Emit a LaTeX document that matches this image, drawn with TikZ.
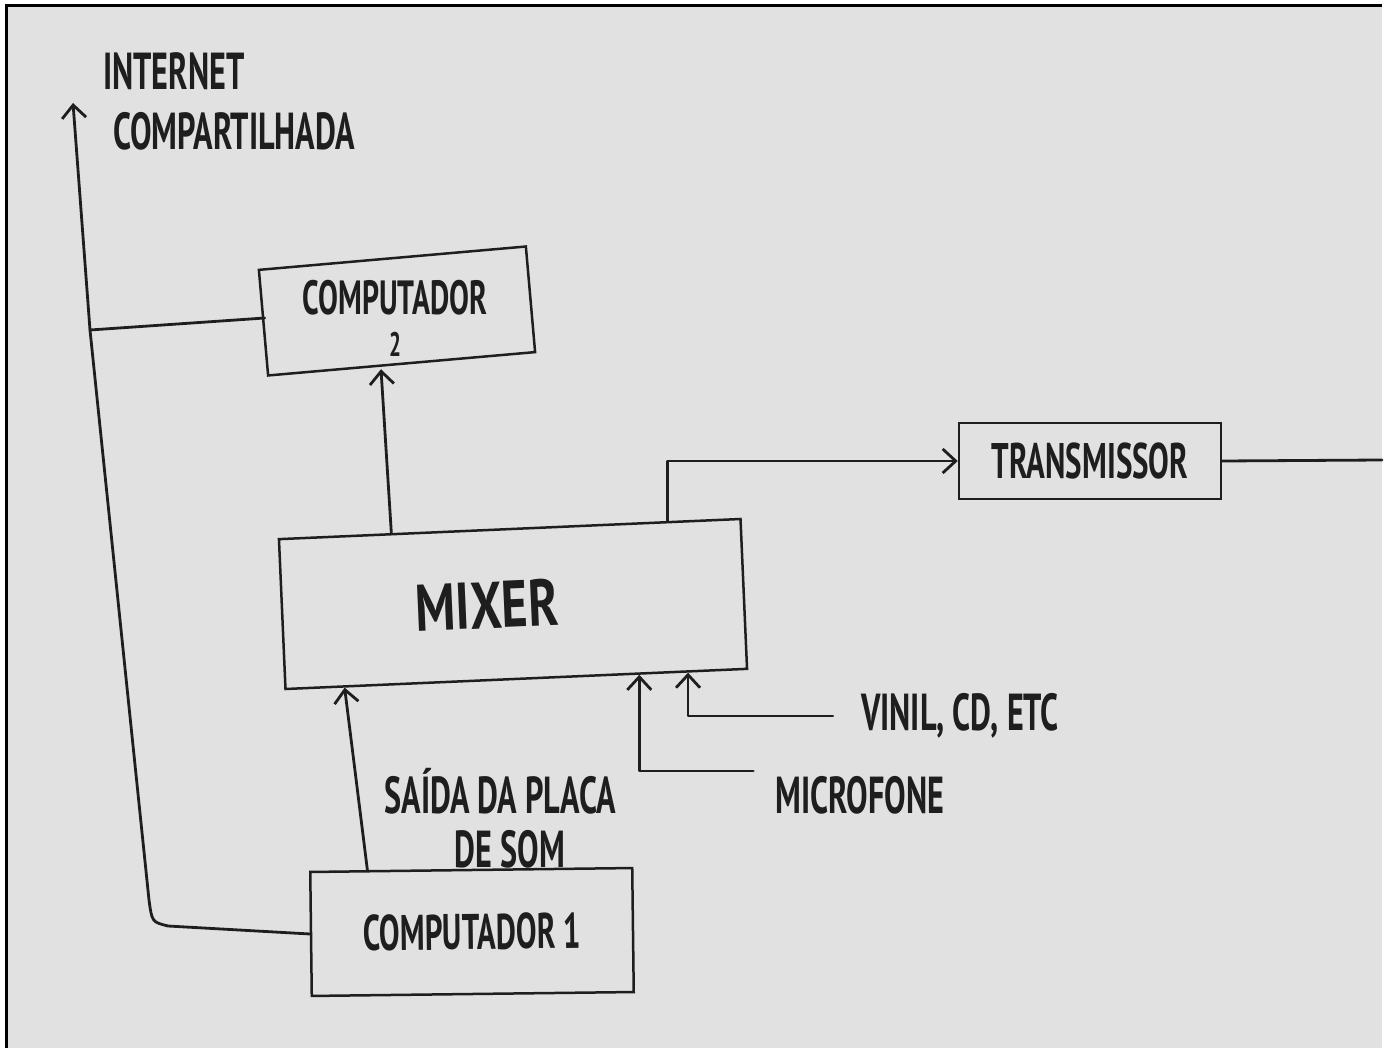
\documentclass[tikz,border=0pt]{standalone}
\usepackage{fontspec}
\newfontfamily\hand[FakeStretch=0.62]{PT Sans Bold}
\newfontfamily\handwide[FakeStretch=0.76]{PT Sans Bold}
\usetikzlibrary{arrows.meta,calc}
\definecolor{paper}{HTML}{E1E1E1}
\definecolor{ink}{HTML}{1E1E1E}
\begin{document}
\begin{tikzpicture}[x=1pt,y=-1pt,
  pen/.style={draw=ink,line width=2.8pt,line cap=round,line join=round},
  arr/.style={pen,-{Straight Barb[length=13pt,width=24pt,line width=2.8pt]}},
  boxnode/.style={draw=ink,line width=2.5pt,rectangle,inner sep=0pt,
    font=\hand\fontsize{50}{56}\selectfont,text=ink,align=center},
  lbl/.style={inner sep=0pt,font=\hand\fontsize{52}{58}\selectfont,text=ink}]
\useasboundingbox (0,0) rectangle (1387,1048);
\fill[white] (0,0) rectangle (1387,1048);
\fill[paper] (6,6) rectangle (1382,1048);
\draw[black,line width=3pt] (6,1048) -- (6,6) -- (1382,6);

% nodes
\node[lbl,anchor=north west,align=left] (inet) at (103,52)
  {INTERNET\\[2pt]\hspace*{10pt}COMPARTILHADA};
\node[boxnode,draw=none,minimum width=258pt,minimum height=100pt,
  font=\hand\fontsize{48}{42}\selectfont] (c2) at (395,318)
  {COMPUTADOR\\{\fontsize{34}{42}\selectfont 2}};
\coordinate (c2box) at (397,311);
\draw[ink,line width=2.5pt,rotate around={5:(c2box)}]
  ([shift={(-134,-53)}]c2box) rectangle ([shift={(134,53)}]c2box);
\node[boxnode,minimum width=462pt,minimum height=150pt,rotate=2.5,
  font=\handwide\fontsize{66}{72}\selectfont] (mixer) at (513,604) {MIXER\hspace*{52pt}};
\node[boxnode,minimum width=262pt,minimum height=76pt] (tx) at (1090,461) {TRANSMISSOR};
\node[boxnode,minimum width=322pt,minimum height=124pt,rotate=0.7] (c1) at (472,932) {COMPUTADOR 1};
\node[lbl] (vinil) at (960,716) {VINIL, CD, ETC};
\node[lbl] (mic) at (860,795) {MICROFONE};
\node[lbl,align=center] (saida) at (500,818) {SAÍDA DA PLACA\\[-4pt]\hspace*{20pt}DE SOM};

\coordinate (inettip) at (73,103);
\coordinate (j) at (90,330);
\coordinate (edge) at (1382,460);

% connectors
\draw[pen] (c1.west) -- (168,926) .. controls (152,922) .. (149,900) -- (j);
\draw[pen] (j) -- (c2.west);
\draw[arr] (j) -- (inettip);
\draw[arr] ($(mixer.north west)!0.245!(mixer.north east)$) -- ([xshift=-14pt]c2.south);
\draw[arr] ($(mixer.north west)!0.84!(mixer.north east)$) |- (tx.west);
\draw[pen] (tx.east) -- (edge);
\draw[arr] ([xshift=-28pt]vinil.west) -| ($(mixer.south west)!0.87!(mixer.south east)$);
\draw[arr] ([xshift=-22pt,yshift=24pt]mic.west) -| ($(mixer.south west)!0.765!(mixer.south east)$);
\draw[arr] ($(c1.north west)!0.18!(c1.north east)$) -- ($(mixer.south west)!0.13!(mixer.south east)$);
\end{tikzpicture}
\end{document}
